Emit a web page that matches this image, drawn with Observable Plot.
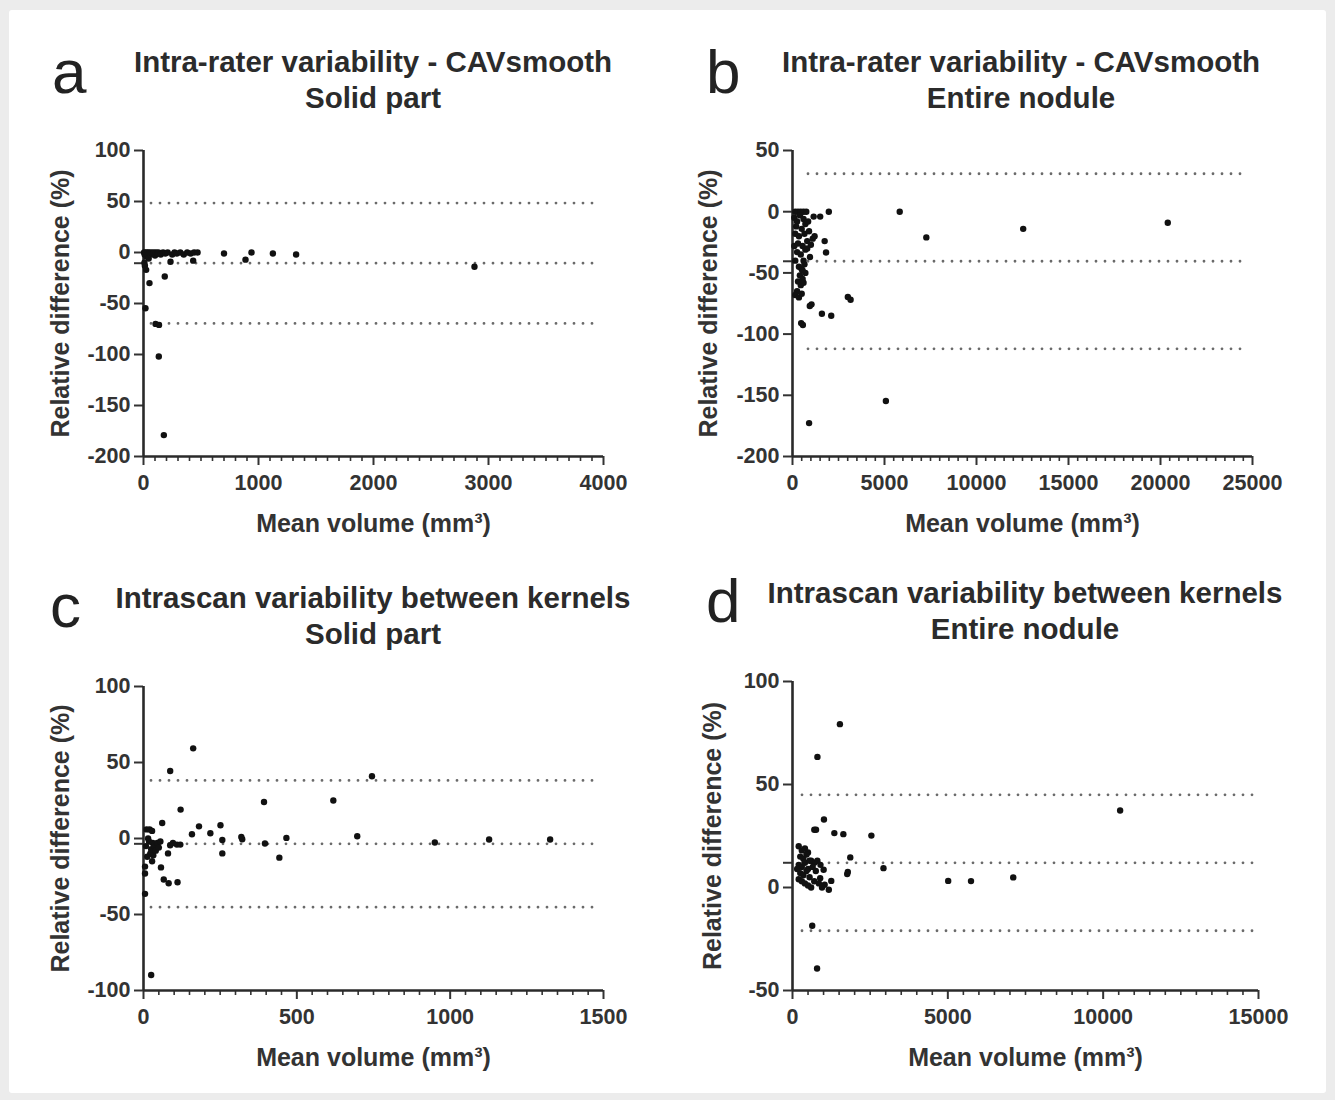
<!DOCTYPE html>
<html><head><meta charset="utf-8">
<script src="https://cdn.jsdelivr.net/npm/d3@7"></script>
<script src="https://cdn.jsdelivr.net/npm/@observablehq/plot@0.6"></script>
<style>
body{margin:0;background:#ececec;font-family:"Liberation Sans",Arial,sans-serif;}
#root{position:relative;width:1335px;height:1100px;overflow:hidden;}
#card{position:absolute;left:9px;top:10px;width:1317px;height:1083px;background:#fff;border-radius:3px;}
.title{position:absolute;width:640px;text-align:center;font-weight:bold;font-size:29.5px;color:#2b2b2b;line-height:36px;}
.letter{position:absolute;font-size:62px;color:#222;line-height:1;}
.panel{position:absolute;}
</style></head><body>
<div id="root"><div id="card"></div></div>
<script>
// ---------- Data (mean volume mm³, relative difference %) ----------
const solidIntraRater = [
  [5,0],[10,-2],[15,-1],[20,0],[25,-4],[30,-1],[35,0],[40,-3],[45,-6],[50,0],[55,-1],[60,-2],[70,0],[80,-1],[90,0],
  [100,-3],[110,0],[120,-1],[130,0],[150,-2],[170,0],[190,-1],[210,0],[235,-9],[250,-2],[270,0],[290,-1],[320,0],
  [350,-2],[380,0],[410,-1],[432,-8],[440,0],[470,0],[8,-10],[12,-13],
  [23,-17],[52,-30],[185,-23.5],[17,-54.6],[105,-70],[135,-71],[133,-102],[177,-179],
  [700,-1],[939,0],[887,-7],[1125,-1],[1327,-2],[2878,-14]
];
const entireIntraRater = [
  [150,0],[300,0],[450,0],[600,0],[750,0],[1974,0],[1504,-4],
  [5827,0],[7274,-21],[12538,-14],[20395,-9],[5075,-154.6],[902,-172.7],[3008,-69.7],[3158,-71.9],
  [1598,-83.4],[2105,-85],[1034,-75.7],[940,-77],[470,-91],[564,-92.6],[1748,-24],[1823,-33.3],
  [100,-5],[250,-8],[400,-3],[600,-6],[200,-12],[500,-14],[700,-10],[150,-18],[350,-20],[650,-18],[900,-16],
  [1100,-22],[300,-26],[550,-28],[800,-24],[1000,-27],[250,-33],[450,-35],[700,-31],[950,-37],[150,-40],
  [600,-40],[350,-45],[500,-47],[650,-43],[400,-52],[550,-55],[300,-57],[700,-50],[450,-60],[250,-65],
  [150,-68],[350,-70],[500,-67],[800,-30],[1200,-20],[100,-28],[850,-8],[1150,-4],[600,-58],[550,-48]
];
const solidKernels = [
  [162,59.3],[87,44.4],[745,41],[619,25],[393,24],[121,19],[61,10.2],[251,8.7],[181,8],[218,3.5],[158,2.8],
  [319,1],[322,-0.5],[697,1.5],[466,0.4],[950,-2.6],[1127,-0.7],[1326,-0.7],[396,-3.3],[257,-1],[257,-9.8],
  [443,-12.6],[80,-9.8],[57,-19],[66,-27],[82,-29.4],[111,-28.8],[5,-36.4],[25,-89.8],[5,-18.5],[5,-23],
  [87,-4.4],[109,-4],[120,-4],[96,-3],
  [10,6],[20,6],[28,5],[15,0],[30,-3],[25,-7],[35,-5],[45,-3],[22,-10],[12,-12],[32,-11],[40,-8],[28,-15],
  [18,-2],[50,-6],[8,-5],[55,-2]
];
const entireKernels = [
  [1526,79.3],[802,63.4],[10546,37.4],[1013,33],[702,28],[757,28],[1347,26.4],[1637,25.9],[2539,25.2],
  [1860,14.6],[1760,6.5],[1780,7.5],[2929,9.4],[5011,3.2],[5746,3.1],[7105,4.9],[635,-18.6],[791,-39.3],
  [1002,8.6],[1247,3.2],[1169,-1.1],[1035,1.3],[891,4.5],
  [200,20],[300,18],[400,19],[500,17],[250,15],[350,14],[450,16],[600,13],[700,12],[800,13],[200,11],
  [300,10],[400,12],[500,9],[650,10],[750,8],[250,7],[350,6],[450,8],[550,5],[200,4],[300,3],[400,2],
  [500,1],[600,0],[700,3],[850,2],[150,9],[550,13],[900,11],[950,0]
];
// Bland–Altman lines: [upper limit, mean bias, lower limit]
const limitsA = [48.5, -10.5, -69.5];
const limitsB = [31, -40.5, -112];
const limitsC = [38.2, -3.5, -45.2];
const limitsD = [45, 12, -21];
// Tick values
const xTicksA = [0, 1000, 2000, 3000, 4000];
const xTicksB = [0, 5000, 10000, 15000, 20000, 25000];
const xTicksC = [0, 500, 1000, 1500];
const xTicksD = [0, 5000, 10000, 15000];
const yTicksA = [100, 50, 0, -50, -100, -150, -200];
const yTicksB = [50, 0, -50, -100, -150, -200];
const yTicksC = [100, 50, 0, -50, -100];
const yTicksD = [100, 50, 0, -50];
const minorStepA = 100, minorStepB = 500, minorStepC = 50, minorStepD = 500;
const titlesA = ["Intra-rater variability - CAVsmooth", "Solid part"];
const titlesB = ["Intra-rater variability - CAVsmooth", "Entire nodule"];
const titlesC = ["Intrascan variability between kernels", "Solid part"];
const titlesD = ["Intrascan variability between kernels", "Entire nodule"];
const xLabel = "Mean volume (mm³)";
const yLabel = "Relative difference (%)";

const root = document.getElementById("root");
const fmt = d => String(d);

function panel(cfg) {
  const {data, xTicks, yTicks, step, limits, left, top, width, height, mL, mR, mT, mB, insL, insR} = cfg;
  const xDom = [xTicks[0], xTicks[xTicks.length - 1]];
  const yDom = [yTicks[yTicks.length - 1], yTicks[0]];
  const minor = d3.range(xDom[0], xDom[1] + step / 2, step).filter(v => !xTicks.includes(v));
  const svg = Plot.plot({
    width, height, marginLeft: mL, marginRight: mR, marginTop: mT, marginBottom: mB,
    style: {fontFamily: "'Liberation Sans', Arial, sans-serif", fontSize: "21.5px", fontWeight: "bold", color: "#333", background: "transparent", overflow: "visible"},
    x: {domain: xDom},
    y: {domain: yDom},
    marks: [
      Plot.ruleY(limits, {stroke: "#6a6a6a", strokeWidth: 2.8, strokeDasharray: "0 9", strokeLinecap: "round", insetLeft: insL, insetRight: insR}),
      Plot.axisX({ticks: minor, tickSize: 5, tickFormat: () => "", label: null, strokeWidth: 1.6, stroke: "#333"}),
      Plot.axisX({ticks: xTicks, tickSize: 9, tickPadding: 9, tickFormat: fmt, label: null, strokeWidth: 2, stroke: "#333"}),
      Plot.axisY({ticks: yTicks, tickSize: 9, tickPadding: 4, tickFormat: fmt, label: null, strokeWidth: 2, stroke: "#333"}),
      Plot.axisY({ticks: [limits[1]], tickSize: 9, tickFormat: () => "", label: null, strokeWidth: 2, stroke: "#333"}),
      Plot.ruleX([xDom[0]], {stroke: "#2a2a2a", strokeWidth: 2.6}),
      Plot.ruleY([yDom[0]], {stroke: "#2a2a2a", strokeWidth: 2.6}),
      Plot.dot(data, {x: d => d[0], y: d => d[1], r: 3.2, fill: "#111", stroke: "none"}),
      Plot.text([xLabel], {frameAnchor: "bottom", dy: 67, textAnchor: "middle", lineAnchor: "middle", fontSize: 25, fontWeight: "bold", fill: "#333"}),
      Plot.text([yLabel], {frameAnchor: "left", dx: cfg.ylDx, rotate: -90, textAnchor: "middle", lineAnchor: "middle", fontSize: 25, fontWeight: "bold", fill: "#333"})
    ]
  });
  svg.classList.add("panel");
  svg.style.left = left + "px";
  svg.style.top = top + "px";
  root.appendChild(svg);

  const t = document.createElement("div");
  t.className = "title";
  t.style.left = (cfg.titleCx - 320) + "px";
  t.style.top = cfg.titleTop + "px";
  t.innerHTML = cfg.titles.map(s => `<div>${s}</div>`).join("");
  root.appendChild(t);

  const l = document.createElement("div");
  l.className = "letter";
  l.textContent = cfg.letter;
  l.style.left = cfg.letterX + "px";
  l.style.top = cfg.letterY + "px";
  root.appendChild(l);
}

panel({data: solidIntraRater, xTicks: xTicksA, yTicks: yTicksA, step: minorStepA, limits: limitsA,
  left: 0, top: 120, width: 650, height: 440, mL: 143, mR: 47, mT: 30, mB: 104, insL: 8, insR: 5, ylDx: -83,
  titles: titlesA, titleCx: 373, titleTop: 44, letter: "a", letterX: 52, letterY: 41});
panel({data: entireIntraRater, xTicks: xTicksB, yTicks: yTicksB, step: minorStepB, limits: limitsB,
  left: 660, top: 120, width: 660, height: 440, mL: 132, mR: 68, mT: 30, mB: 104, insL: 16, insR: 4, ylDx: -84,
  titles: titlesB, titleCx: 1021, titleTop: 44, letter: "b", letterX: 706, letterY: 41});
panel({data: solidKernels, xTicks: xTicksC, yTicks: yTicksC, step: minorStepC, limits: limitsC,
  left: 0, top: 656, width: 650, height: 440, mL: 143, mR: 47, mT: 30, mB: 106, insL: 8, insR: 5, ylDx: -83,
  titles: titlesC, titleCx: 373, titleTop: 580, letter: "c", letterX: 50, letterY: 575});
panel({data: entireKernels, xTicks: xTicksD, yTicks: yTicksD, step: minorStepD, limits: limitsD,
  left: 660, top: 651, width: 660, height: 440, mL: 132, mR: 62, mT: 30, mB: 101, insL: 10, insR: 4, ylDx: -80,
  titles: titlesD, titleCx: 1025, titleTop: 575, letter: "d", letterX: 706, letterY: 570});
</script>
</body></html>
